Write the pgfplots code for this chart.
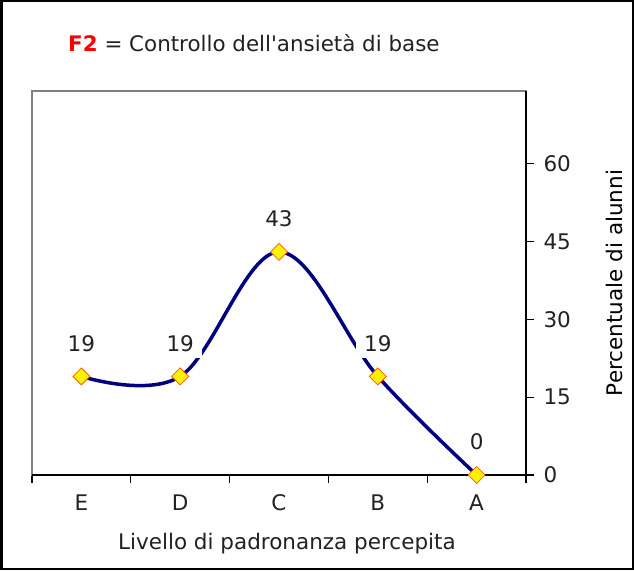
\documentclass[border=0pt]{standalone}
\usepackage{fontspec}
\setmainfont{DejaVu Sans}
\usepackage{pgfplots}
\pgfplotsset{compat=1.18}
\definecolor{navyline}{RGB}{0,0,128}
\definecolor{mkedge}{RGB}{255,90,20}
\definecolor{txt}{RGB}{34,34,34}
\newcommand{\chf}{\fontsize{21.5}{25}\selectfont}
\begin{document}
\begin{tikzpicture}
\useasboundingbox (0pt,0pt) rectangle (634pt,570pt);
\fill[white] (0pt,0pt) rectangle (634pt,570pt);
\draw[line width=2.5pt] (1.25pt,1.25pt) rectangle (632.75pt,568.75pt);
\node[anchor=base west, inner sep=0pt, text=txt] at (68pt,518pt) {\fontsize{21.4}{25}\selectfont\textcolor{red}{\bfseries F2} = Controllo dell\textquotesingle ansietà di base};
\begin{axis}[
  at={(32pt,95pt)}, anchor=south west,
  scale only axis, width=494pt, height=384pt,
  xmin=-0.5, xmax=4.5, ymin=0, ymax=74,
  clip=false,
  axis line style={draw=black!50, line width=1.2pt},
  xtick={0,1,2,3,4}, xticklabels={E,D,C,B,A},
  minor xtick={-0.5,0.5,1.5,2.5,3.5,4.5},
  major x tick style={draw=none},
  minor x tick style={draw=black, line width=1.2pt},
  ytick={0,15,30,45,60},
  y tick style={draw=black, line width=1.2pt},
  tick align=outside,
  major tick length=7.5pt, minor tick length=7.5pt,
  xtick pos=bottom, ytick pos=right,
  yticklabel pos=right,
  /pgf/number format/assume math mode=true,
  tick label style={font=\chf, text=txt},
  xticklabel style={anchor=base, yshift=-28pt},
  yticklabel style={xshift=6.5pt},
  xlabel={Livello di padronanza percepita},
  xlabel style={font=\chf, text=txt, at={(axis description cs:0.516,-0.193)}, anchor=base},
  ylabel={Percentuale di alunni},
  ylabel style={font=\chf, text=black, at={(axis description cs:1.18,0.5)}, anchor=center},
]
\draw[black, line width=1.2pt] (rel axis cs:0,0) -- (rel axis cs:1,0) -- (rel axis cs:1,1);
\addplot[color=navyline, line width=3.5pt, smooth, tension=0.6,
  mark=square*, mark size=6pt,
  mark options={rotate=45, fill=yellow, draw=mkedge, line width=0.8pt},
  nodes near coords,
  every node near coord/.append style={font=\chf, text=txt, anchor=center, yshift=33pt, fill=white, inner xsep=8pt, inner ysep=6pt},
] coordinates {(0,19) (1,19) (2,43) (3,19) (4,0)};
\end{axis}
\end{tikzpicture}
\end{document}
